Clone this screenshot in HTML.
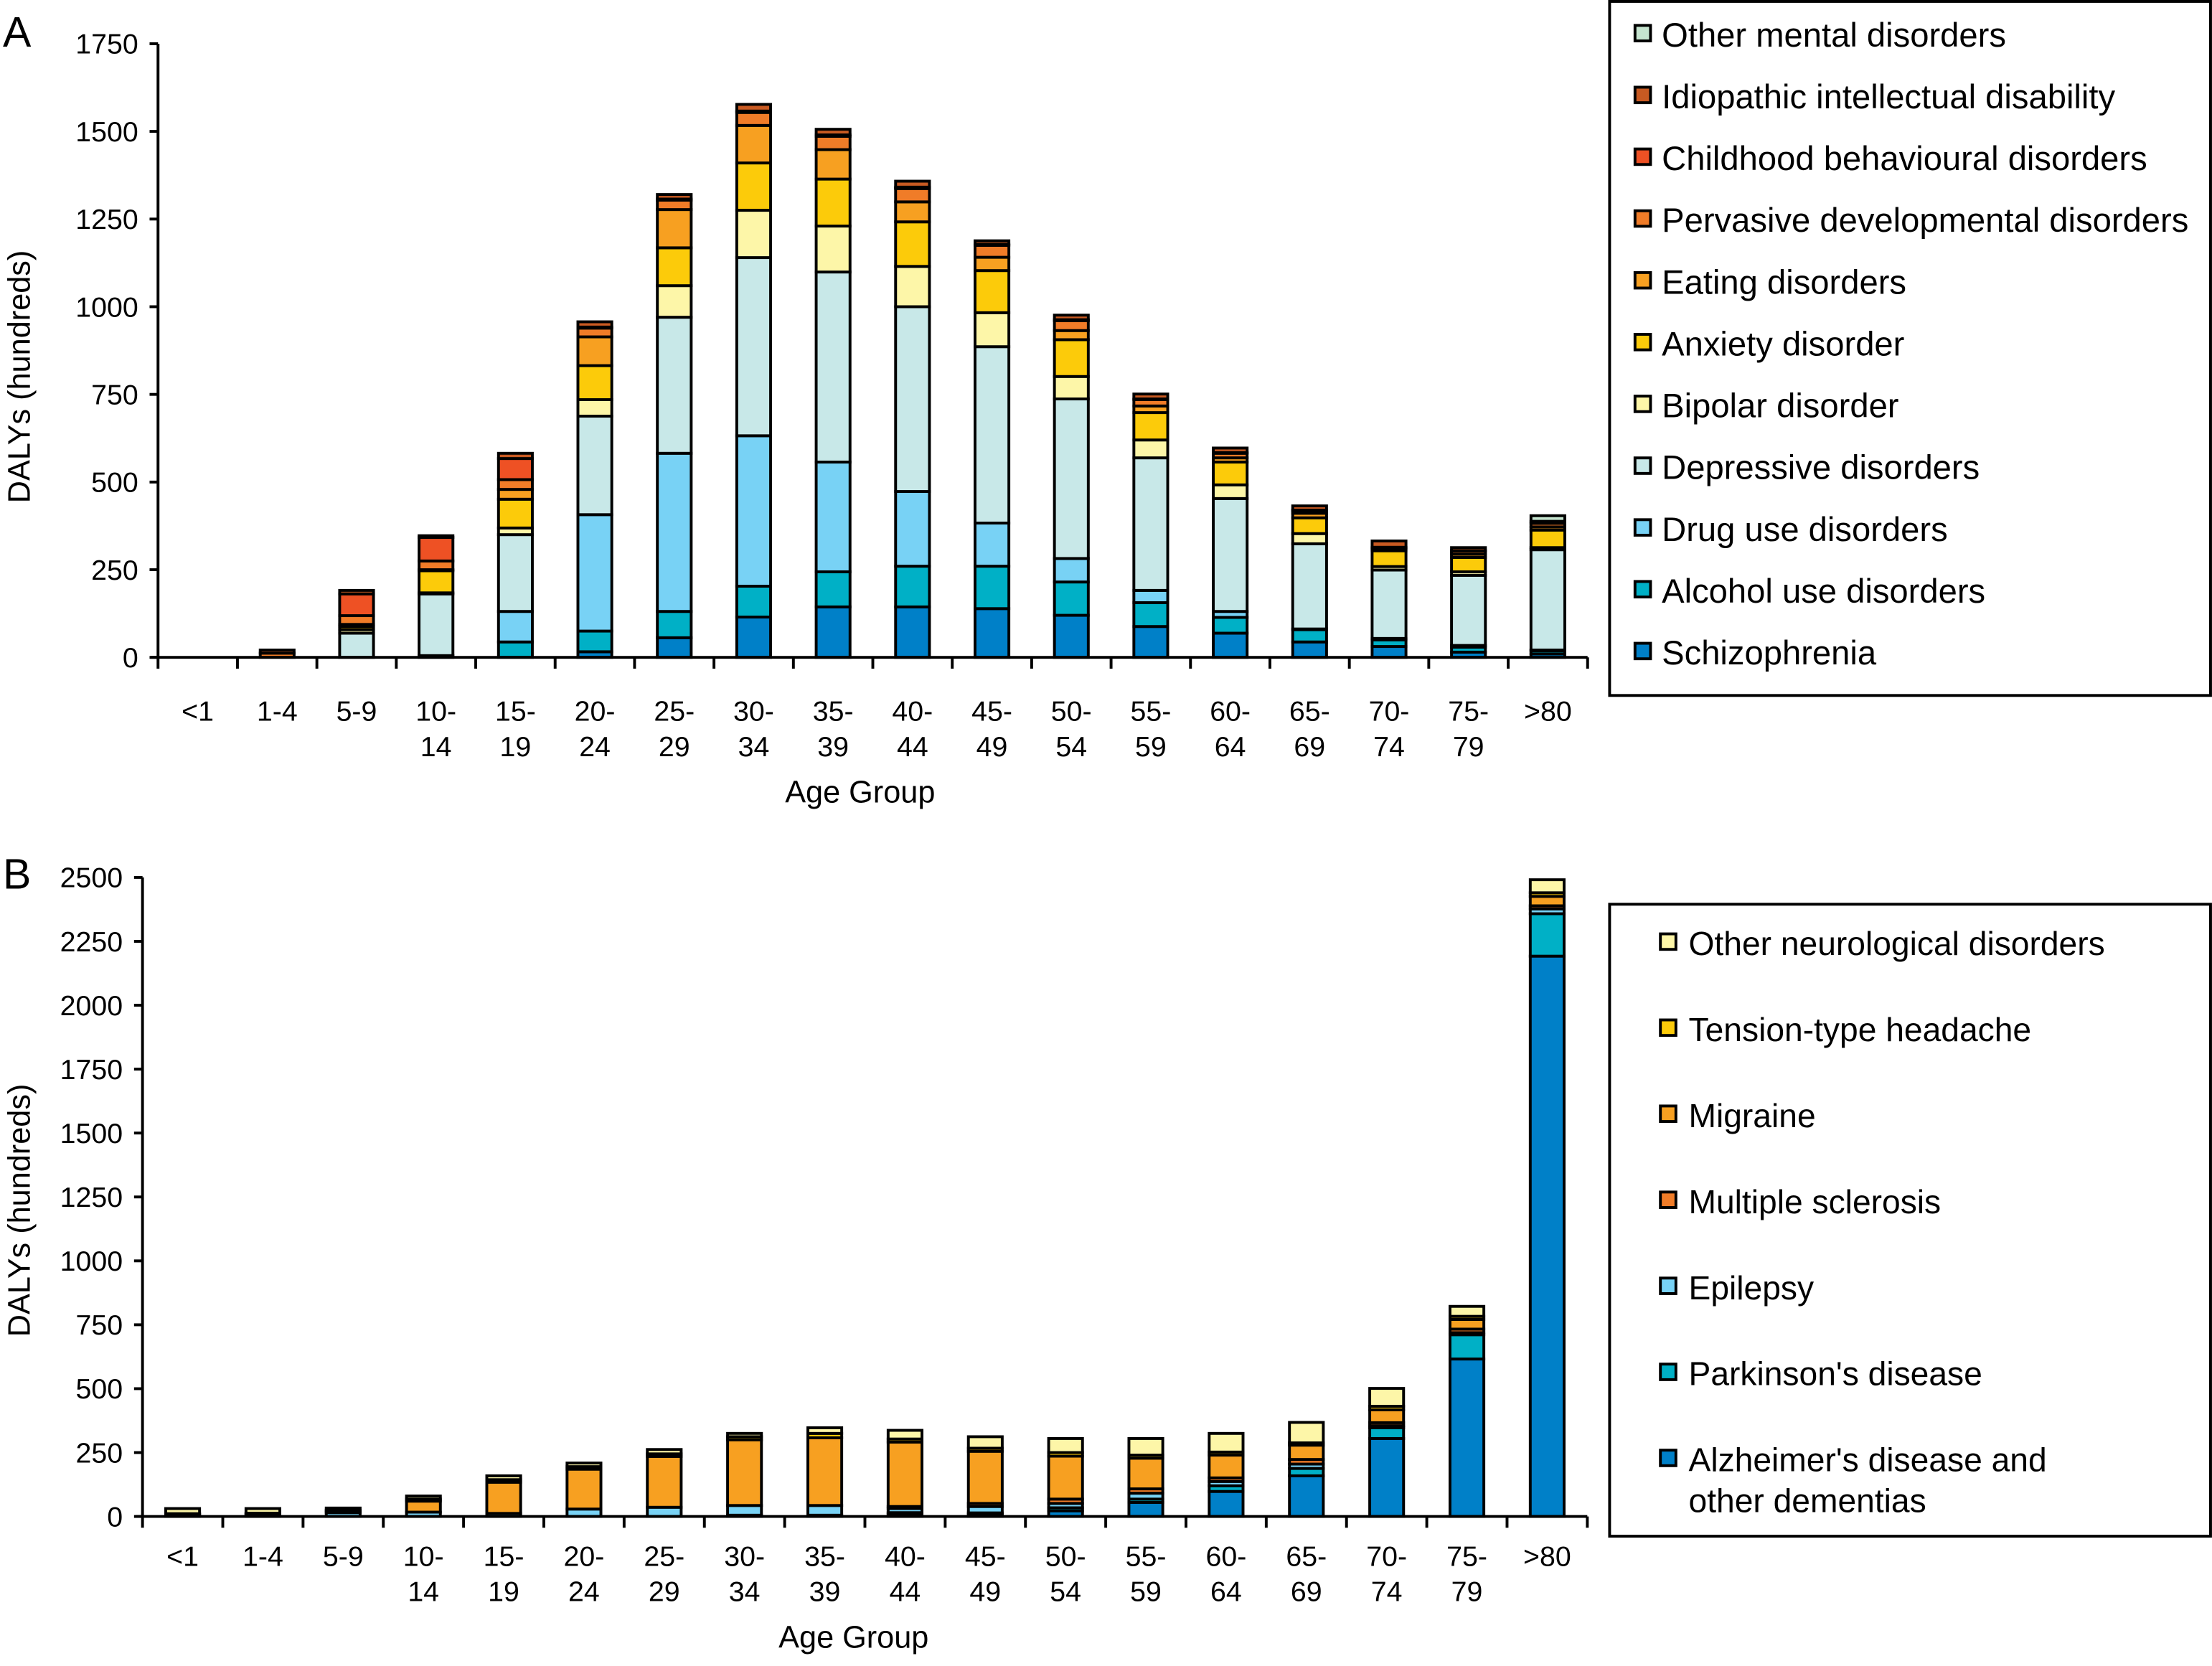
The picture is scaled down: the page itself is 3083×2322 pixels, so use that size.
<!DOCTYPE html>
<html><head><meta charset="utf-8"><style>
html,body{margin:0;padding:0;background:#fff;}
svg{display:block;}
.n{font-family:"Liberation Sans Narrow","Liberation Sans",sans-serif;}
.w{font-family:"Liberation Sans",sans-serif;}
</style></head><body>
<svg id="chart" width="3083" height="2322" viewBox="0 0 1568 1181" xmlns="http://www.w3.org/2000/svg">
<rect x="0" y="0" width="1568" height="1181" fill="#fff"/>
<g id="gA"></g>
<g id="gB"></g>
</svg>
<script>
const categories = ["<1","1-4","5-9","10-14","15-19","20-24","25-29","30-34","35-39","40-44","45-49","50-54","55-59","60-64","65-69","70-74","75-79",">80"];
const seriesA = ["Schizophrenia","Alcohol use disorders","Drug use disorders","Depressive disorders","Bipolar disorder","Anxiety disorder","Eating disorders","Pervasive developmental disorders","Childhood behavioural disorders","Idiopathic intellectual disability","Other mental disorders"];
const colorsA = ["#0080c8","#00b0c6","#78d2f5","#c8e8e8","#fdf6a8","#fccb0a","#f7a021","#f07c28","#ee5124","#c85a22","#c5e4cf"];
const schizophrenia = [0,0,0,5,0,16,56,115,144,144,139,120,88,69,44,31,15,10];
const alcohol =       [0,0,0,0,44,59,75,88,100,116,121,95,68,45,35,19,14,9];
const drug =          [0,0,0,0,87,332,451,429,313,213,123,67,35,17,2,4,5,2];
const depressive =    [0,0,69,176,219,281,388,508,542,527,503,455,378,322,243,195,200,286];
const bipolar =       [0,0,10,3,19,47,90,135,131,115,97,64,51,39,29,10,10,6];
const anxiety =       [0,0,9,63,82,97,108,135,134,127,120,105,78,65,45,45,41,50];
const eating =        [0,0,6,3,28,82,109,107,84,57,38,26,19,12,13,5,9,9];
const pervasive =     [0,12,25,25,28,25,27,37,38,38,34,28,18,13,8,4,9,10];
const childhood =     [0,0,62,67,60,3,3,4,4,4,3,3,2,2,1,1,1,0];
const idiopathic =    [0,9,10,5,15,15,13,19,16,17,10,13,14,13,12,18,9,6];
const otherMental =   [0,0,0,0,0,0,0,0,0,0,0,0,0,0,0,0,0,16];
const valuesA = [schizophrenia,alcohol,drug,depressive,bipolar,anxiety,eating,pervasive,childhood,idiopathic,otherMental];
const ticksA = [0,250,500,750,1000,1250,1500,1750];

const seriesB = ["Alzheimer's disease and other dementias","Parkinson's disease","Epilepsy","Multiple sclerosis","Migraine","Tension-type headache","Other neurological disorders"];
const colorsB = ["#0080c8","#00b0c6","#78d2f5","#f07c28","#f7a021","#fccb0a","#fdf6a8"];
const alzheimer = [0,0,0,0,0,0,0,5,5,10,8,22,55,98,159,305,616,2192];
const parkinson = [0,0,0,0,0,0,0,0,0,5,6,12,13,22,29,42,95,166];
const epilepsy =  [8,8,15,17,12,29,36,38,38,16,25,17,23,17,17,8,8,19];
const ms =        [0,0,0,0,0,0,0,0,0,8,12,17,17,14,18,12,14,12];
const migraine =  [0,2,5,43,122,156,199,257,265,252,204,168,120,89,56,50,38,37];
const tension =   [3,3,5,8,10,10,10,12,17,12,12,14,12,12,9,14,12,14];
const otherNeuro =[20,18,8,12,15,14,17,13,22,34,45,55,65,73,80,70,39,51];
const valuesB = [alzheimer,parkinson,epilepsy,ms,migraine,tension,otherNeuro];
const ticksB = [0,250,500,750,1000,1250,1500,1750,2000,2250,2500];

const NS = "http://www.w3.org/2000/svg";
function mk(parent, tag, attrs, text){
  const e = document.createElementNS(NS, tag);
  for (const k in attrs) e.setAttribute(k, attrs[k]);
  if (text !== undefined) e.textContent = text;
  parent.appendChild(e);
  return e;
}

function drawPanel(g, cfg){
  const xAt = i => cfg.x0 + cfg.step * (i + 0.5);
  const yAt = v => cfg.y0 - v * cfg.k;
  categories.forEach((c, i) => {
    let cum = 0;
    cfg.values.forEach((arr, s) => {
      const v = arr[i];
      if (v <= 0) return;
      const r = mk(g, "rect", {x: xAt(i) - cfg.bw/2, y: yAt(cum + v), width: cfg.bw, height: v * cfg.k, fill: cfg.colors[s], stroke: "#000", "stroke-width": 2});
      
      
      cum += v;
    });
  });
  const ya = mk(g, "line", {x1: cfg.x0, y1: cfg.y0, x2: cfg.x0, y2: yAt(cfg.ticks[cfg.ticks.length-1]), stroke: "#000", "stroke-width": 2});
  
  
  const xEnd = cfg.x0 + cfg.step * categories.length;
  const xa = mk(g, "line", {x1: cfg.x0 - 5, y1: cfg.y0, x2: xEnd, y2: cfg.y0, stroke: "#000", "stroke-width": 2});
  
  
  cfg.ticks.forEach(t => {
    mk(g, "line", {x1: cfg.x0 - 6, y1: yAt(t), x2: cfg.x0, y2: yAt(t), stroke: "#000", "stroke-width": 2});
    const tl = mk(g, "text", {x: cfg.x0 - 14, y: yAt(t) + 7, "text-anchor": "end", "font-size": 20, class: "n"}, String(t));
    
    
  });
  for (let i = 0; i <= categories.length; i++) {
    const x = cfg.x0 + cfg.step * i;
    mk(g, "line", {x1: x, y1: cfg.y0, x2: x, y2: cfg.y0 + 8, stroke: "#000", "stroke-width": 2});
  }
  categories.forEach((c, i) => {
    const parts = c.length > 3 && c.indexOf("-") > 0 && c.split("-")[0].length >= 2 ? [c.split("-")[0] + "-", c.split("-")[1]] : [c];
    parts.forEach((p, j) => {
      const t = mk(g, "text", {x: xAt(i), y: cfg.labY + j * 25, "text-anchor": "middle", "font-size": 20, class: "n"}, p);
      
      
    });
  });
  const xt = mk(g, "text", {x: cfg.x0 + cfg.step * 9 + cfg.titleDx, y: cfg.labY + 58, "text-anchor": "middle", "font-size": 22, class: "w"}, "Age Group");
  
  
  const yt = mk(g, "text", {x: 0, y: 0, "text-anchor": "middle", "font-size": 22, class: "w", transform: `translate(21 ${cfg.titleY}) rotate(-90)`}, "DALYs (hundreds)");
  
  
  const pl = mk(g, "text", {x: 2, y: cfg.panelY, "font-size": 30, class: "w"}, cfg.panel);
  
  
  const L = cfg.legend;
  const box = mk(g, "rect", {x: L.x, y: L.y, width: L.w, height: L.h, fill: "none", stroke: "#000", "stroke-width": 2});
  
  
  const order = cfg.series.map((s, i) => i).reverse();
  order.forEach((si, j) => {
    const by = L.firstY + j * L.gap;
    const sw = mk(g, "rect", {x: L.sx, y: by - 15, width: 11, height: 11, fill: cfg.colors[si], stroke: "#000", "stroke-width": 2});
    
    
    const name = cfg.series[si];
    const lines = name === "Alzheimer's disease and other dementias" ? ["Alzheimer's disease and", "other dementias"] : [name];
    lines.forEach((ln, k) => {
      const t = mk(g, "text", {x: L.tx, y: by + k * 29, "font-size": L.fs, class: cfg.legendClass}, ln);
      
      
    });
  });
}

drawPanel(document.getElementById("gA"), {
  x0: 112, y0: 466, k: 435/1750, step: 56.3, bw: 24, values: valuesA, colors: colorsA, series: seriesA,
  ticks: ticksA, labY: 511, titleY: 267, panel: "A", panelY: 33, titleDx: -9,
  legend: {x: 1141, y: 1, w: 426, h: 492, sx: 1159, tx: 1178, firstY: 33, gap: 43.8, fs: 24}, legendClass: "n"
});
drawPanel(document.getElementById("gB"), {
  x0: 101, y0: 1075, k: 453/2500, step: 56.9, bw: 24, values: valuesB, colors: colorsB, series: seriesB,
  ticks: ticksB, labY: 1110, titleY: 858, panel: "B", panelY: 630, titleDx: -8,
  legend: {x: 1141, y: 641, w: 426, h: 448, sx: 1177, tx: 1197, firstY: 677, gap: 61, fs: 23.5}, legendClass: "w"
});
</script>
</body></html>
